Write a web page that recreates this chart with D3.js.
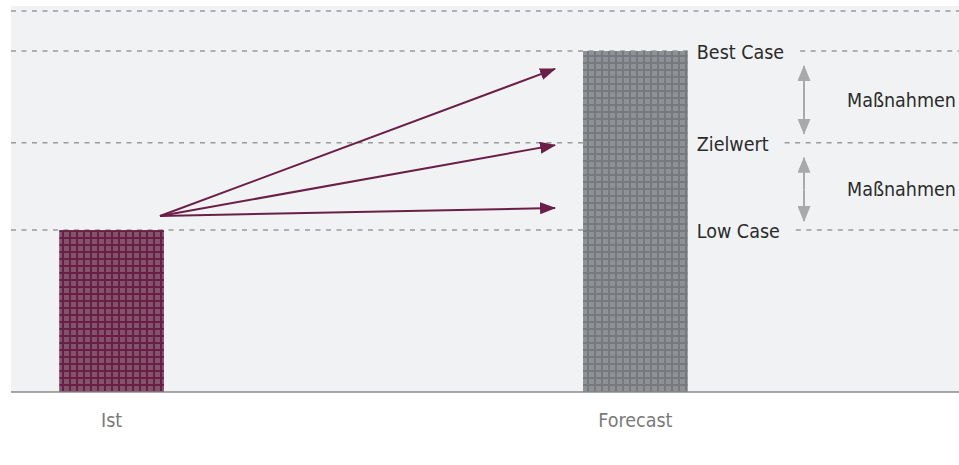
<!DOCTYPE html>
<html>
<head>
<meta charset="utf-8">
<script src="https://cdn.jsdelivr.net/npm/d3@7"></script>
<style>
  body { margin: 0; background: #fff; }
  text { font-family: "DejaVu Sans Condensed", "DejaVu Sans", sans-serif; font-stretch: condensed; }
</style>
</head>
<body>
<svg id="chart" width="959" height="465"></svg>
<script>
// data
var categories = ["Ist", "Forecast"];
var barValues = [42.5, 89.5];
var levelNames = ["Best Case", "Zielwert", "Low Case"];
var levelValues = [89.5, 65.4, 42.5];
var topGrid = 100;
var arrowStart = 46.2;
var arrowEnds = [84.8, 64.8, 48.3];
var spanLabels = ["Maßnahmen", "Maßnahmen"];

(function() {

var svg = d3.select("#chart"),
    width = +svg.attr("width"),
    height = +svg.attr("height");

var plotLeft = 11, plotRight = 959, plotBottom = 392, plotTop = 11;

var x = d3.scaleBand()
    .domain(categories)
    .range([plotLeft, 736])
    .paddingInner(0.8)
    .paddingOuter(0.092);

var y = d3.scaleLinear()
    .domain([0, topGrid])
    .range([plotBottom, plotTop]);

var defs = svg.append("defs");

function gridPattern(id, light, dark) {
    var p = defs.append("pattern")
        .attr("id", id)
        .attr("patternUnits", "userSpaceOnUse")
        .attr("width", 7).attr("height", 7);
    p.append("rect").attr("width", 7).attr("height", 7).attr("fill", dark);
    p.append("rect").attr("x", 1).attr("y", 1).attr("width", 5).attr("height", 5).attr("fill", light);
}
gridPattern("patIst", "#83536c", "#691f45");
gridPattern("patFc", "#8e9296", "#767a7e");

defs.append("marker")
    .attr("id", "headRed")
    .attr("viewBox", "0 0 16 12")
    .attr("refX", 15).attr("refY", 6)
    .attr("markerWidth", 16).attr("markerHeight", 12)
    .attr("markerUnits", "userSpaceOnUse")
    .attr("orient", "auto")
    .append("path").attr("d", "M0,0L16,6L0,12Z").attr("fill", "#6a1f46");

defs.append("marker")
    .attr("id", "headGrey")
    .attr("viewBox", "0 0 16 13")
    .attr("refX", 15).attr("refY", 6.5)
    .attr("markerWidth", 16).attr("markerHeight", 13)
    .attr("markerUnits", "userSpaceOnUse")
    .attr("orient", "auto")
    .append("path").attr("d", "M0,0L16,6.5L0,13Z").attr("fill", "#a9a9a9");

// panel
svg.append("rect")
    .attr("x", plotLeft).attr("y", 6)
    .attr("width", plotRight - plotLeft).attr("height", plotBottom - 6)
    .attr("fill", "#f1f2f4");

// top grid line
svg.append("line")
    .attr("x1", plotLeft).attr("x2", plotRight)
    .attr("y1", y(topGrid)).attr("y2", y(topGrid))
    .attr("stroke", "#9a9a9a").attr("stroke-width", 1.5)
    .attr("stroke-dasharray", "5,5.5");

// level lines, left part (behind bars)
var fcRight = x("Forecast") + x.bandwidth();
svg.selectAll(".lvl")
    .data(levelValues)
    .enter().append("line")
    .attr("class", "lvl")
    .attr("x1", plotLeft).attr("x2", fcRight)
    .attr("y1", function(d) { return y(d); })
    .attr("y2", function(d) { return y(d); })
    .attr("stroke", "#9a9a9a").attr("stroke-width", 1.5)
    .attr("stroke-dasharray", "5,5.5");

// bars
svg.selectAll(".bar")
    .data(categories)
    .enter().append("rect")
    .attr("class", "bar")
    .attr("x", function(d) { return x(d); })
    .attr("width", x.bandwidth())
    .attr("y", function(d, i) { return y(barValues[i]); })
    .attr("height", function(d, i) { return plotBottom - y(barValues[i]); })
    .attr("fill", function(d, i) { return i === 0 ? "url(#patIst)" : "url(#patFc)"; });

// axis line
svg.append("line")
    .attr("x1", plotLeft).attr("x2", plotRight)
    .attr("y1", plotBottom).attr("y2", plotBottom)
    .attr("stroke", "#8a8a8a").attr("stroke-width", 1.5);

// category labels
svg.selectAll(".cat")
    .data(categories)
    .enter().append("text")
    .attr("class", "cat")
    .attr("x", function(d) { return x(d) + x.bandwidth() / 2; })
    .attr("y", 427)
    .attr("text-anchor", "middle")
    .attr("font-size", 19.5)
    .attr("fill", "#7a7a7a")
    .text(function(d) { return d; });

// level labels + right dashed part
var labelX = fcRight + 9;
levelNames.forEach(function(name, i) {
    var t = svg.append("text")
        .attr("x", labelX)
        .attr("y", y(levelValues[i]) + 8)
        .attr("font-size", 19.5)
        .attr("fill", "#2b2b2b")
        .text(name);
    var w = t.node().getComputedTextLength();
    svg.append("line")
        .attr("x1", labelX + w + 16).attr("x2", plotRight)
        .attr("y1", y(levelValues[i])).attr("y2", y(levelValues[i]))
        .attr("stroke", "#9a9a9a").attr("stroke-width", 1.5)
        .attr("stroke-dasharray", "5,5.5");
});

// arrows from Ist to forecast
var sx = x("Ist") + x.bandwidth() - 4;
var ex = x("Forecast") - 28;
svg.selectAll(".arr")
    .data(arrowEnds)
    .enter().append("line")
    .attr("class", "arr")
    .attr("x1", sx).attr("y1", y(arrowStart))
    .attr("x2", ex).attr("y2", function(d) { return y(d); })
    .attr("stroke", "#6a1f46").attr("stroke-width", 2)
    .attr("marker-end", "url(#headRed)");

// double arrows between levels
var ax = 804;
for (var i = 0; i < levelValues.length - 1; i++) {
    var y1 = y(levelValues[i]) + 15, y2 = y(levelValues[i + 1]) - 9;
    var ym = (y1 + y2) / 2;
    svg.append("line")
        .attr("x1", ax).attr("x2", ax).attr("y1", ym).attr("y2", y1)
        .attr("stroke", "#a9a9a9").attr("stroke-width", 2)
        .attr("marker-end", "url(#headGrey)");
    svg.append("line")
        .attr("x1", ax).attr("x2", ax).attr("y1", ym).attr("y2", y2)
        .attr("stroke", "#a9a9a9").attr("stroke-width", 2)
        .attr("marker-end", "url(#headGrey)");
    svg.append("text")
        .attr("x", 847)
        .attr("y", ym + 7)
        .attr("font-size", 19.5)
        .attr("fill", "#2b2b2b")
        .text(spanLabels[i]);
}

})();
</script>
</body>
</html>
